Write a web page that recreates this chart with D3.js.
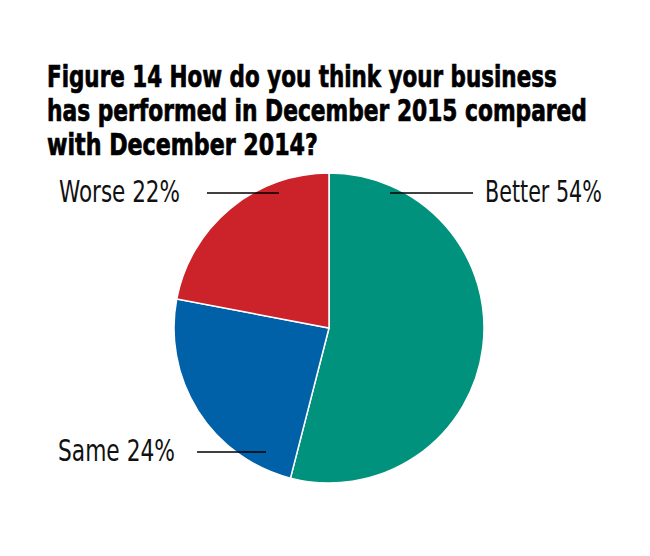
<!DOCTYPE html>
<html><head><meta charset="utf-8">
<script src="https://cdn.jsdelivr.net/npm/d3@7"></script>
<style>body{margin:0;background:#fff}svg{display:block}</style>
</head><body>
<svg id="c" width="650" height="556"></svg>
<script>
const titleLines = ["Figure 14 How do you think your business","has performed in December 2015 compared","with December 2014?"];
const categories = ["Better","Same","Worse"];
const values = [54,24,22];
const colors = ["#00927c","#0061a8","#cc2229"];

const svg = d3.select("#c");
const cx = 329, cy = 328, R = 155;
const FONT = "'DejaVu Sans Condensed','Liberation Sans Narrow',sans-serif";

function fitText(sel, target, x, y, anchor){
  const w = sel.node().getComputedTextLength();
  const sx = target / w;
  sel.attr("x",0).attr("y",0).attr("text-anchor",anchor||"start")
     .attr("transform",`translate(${x},${y}) scale(${sx},1)`);
}

const titleW = [510,540,271];
svg.selectAll("text.t").data(titleLines).enter().append("text")
  .attr("class","t")
  .style("font-family",FONT).style("font-weight","bold").style("font-size","30px")
  .attr("fill","#000").attr("stroke","#000").attr("stroke-width",0.7)
  .text(d=>d)
  .each(function(d,i){ fitText(d3.select(this), titleW[i], 47, 87+i*34); });

const pie = d3.pie().sort(null).value(d=>d);
const arc = d3.arc().innerRadius(0).outerRadius(R);
const g = svg.append("g").attr("transform",`translate(${cx},${cy})`);
g.selectAll("path").data(pie(values)).enter().append("path")
  .attr("d",arc).attr("fill",(d,i)=>colors[i]).attr("stroke","#fff").attr("stroke-width",1.5);

const arcs = pie(values);
const lab = [
  {line:[390,473], y:193, tx:485, anchor:"start", w:117},
  {line:[197,266], y:452, tx:175, anchor:"end", w:117},
  {line:[207,279], y:193, tx:180, anchor:"end", w:121}
];
arcs.forEach((a,i)=>{
  const L = lab[i];
  svg.append("line").attr("x1",L.line[0]).attr("x2",L.line[1]).attr("y1",L.y).attr("y2",L.y)
    .attr("stroke","#000").attr("stroke-width",1.6);
  const t = svg.append("text")
    .style("font-family",FONT).style("font-size","30px").attr("fill","#111")
    .text(`${categories[i]} ${values[i]}%`);
  fitText(t, L.w, L.tx, L.y+9, L.anchor);
});
</script>
</body></html>
